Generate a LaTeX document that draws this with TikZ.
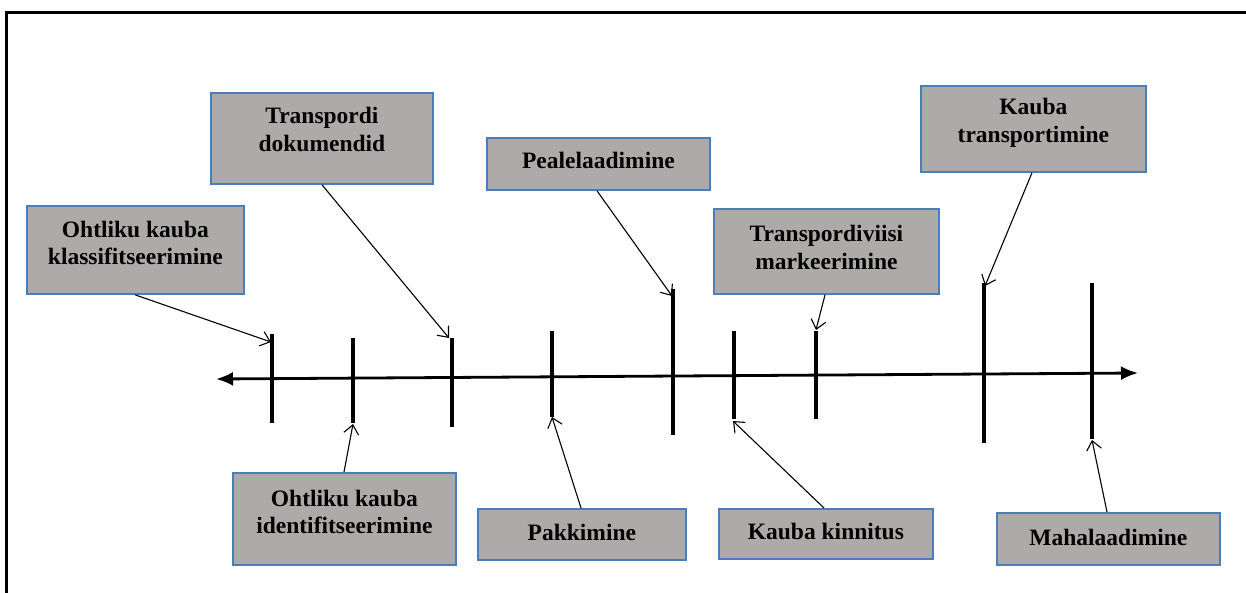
\documentclass[tikz,border=0pt]{standalone}
\usepackage{fontspec}
\setmainfont{Liberation Serif}
\usetikzlibrary{arrows.meta,calc}
\definecolor{boxfill}{HTML}{AEAAAA}
\definecolor{boxline}{HTML}{4A7EBB}
\tikzset{
  stagebox/.style={draw=boxline, line width=1.8pt, fill=boxfill, rectangle, inner sep=0pt, anchor=north west},
  stagetext/.style={align=center, inner sep=0pt, font=\fontsize{23.5}{27.5}\selectfont\bfseries},
  tick/.style={line width=3.8pt},
  pointer/.style={line width=1.1pt, -{Straight Barb[length=9pt,width=15pt,line width=1.1pt]}},
}
\begin{document}
\begin{tikzpicture}[x=1pt,y=-1pt]
\useasboundingbox (0,0) rectangle (1246,592);
% outer frame, partly outside the page
\begin{scope}
\clip (0,0) rectangle (1246,592);
\draw[line width=2.4pt] (6.5,12.5) rectangle (1300,700);
\end{scope}

% time axis
\coordinate (axL) at (216,379);
\coordinate (axR) at (1138,373);
\draw[line width=2.8pt, {Latex[length=17pt,width=14pt]}-{Latex[length=17pt,width=14pt]}] (axL) -- (axR);

% stage ticks
\coordinate (t1a) at (272,334); \coordinate (t1b) at (272,423);
\coordinate (t2a) at (353,338); \coordinate (t2b) at (353,423);
\coordinate (t3a) at (452,338); \coordinate (t3b) at (452,427);
\coordinate (t4a) at (552,331); \coordinate (t4b) at (552,417);
\coordinate (t5a) at (673,289); \coordinate (t5b) at (673,435);
\coordinate (t6a) at (734,331); \coordinate (t6b) at (734,419);
\coordinate (t7a) at (816,331); \coordinate (t7b) at (816,419);
\coordinate (t8a) at (984,283); \coordinate (t8b) at (984,443);
\coordinate (t9a) at (1092,283); \coordinate (t9b) at (1092,439);
\foreach \i in {1,...,9} \draw[tick] (t\i a) -- (t\i b);

% stage boxes
\node[stagebox, minimum width=217, minimum height=88] (b1) at (26,205) {};
\node[stagebox, minimum width=222, minimum height=91] (b2) at (210,92) {};
\node[stagebox, minimum width=223, minimum height=52] (b3) at (486,137) {};
\node[stagebox, minimum width=225, minimum height=85] (b4) at (713,208) {};
\node[stagebox, minimum width=225, minimum height=86] (b5) at (920,85) {};
\node[stagebox, minimum width=223, minimum height=92] (b6) at (232,472) {};
\node[stagebox, minimum width=208, minimum height=51] (b7) at (477,508) {};
\node[stagebox, minimum width=214, minimum height=50] (b8) at (718,508) {};
\node[stagebox, minimum width=223, minimum height=52] (b9) at (996,512) {};

% box labels, set a little above the box centres
\node[stagetext] (l1) at ([yshift=7]b1.center) {Ohtliku kauba\\klassifitseerimine};
\node[stagetext] (l2) at ([yshift=9]b2.center) {Transpordi\\dokumendid};
\node[stagetext] (l3) at ([yshift=3]b3.center) {Pealelaadimine};
\node[stagetext] (l4) at ([yshift=4]b4.center) {Transpordiviisi\\markeerimine};
\node[stagetext] (l5) at ([yshift=6]b5.center) {Kauba\\transportimine};
\node[stagetext] (l6) at ([yshift=7]b6.center) {Ohtliku kauba\\identifitseerimine};
\node[stagetext] (l7) at ([yshift=2]b7.center) {Pakkimine};
\node[stagetext] (l8) at ([yshift=2]b8.center) {Kauba kinnitus};
\node[stagetext] (l9) at ([yshift=1]b9.center) {Mahalaadimine};

% pointers from boxes to ticks
\coordinate (p1) at (271,342);
\coordinate (p2) at (449,338);
\coordinate (p3) at (672,296);
\coordinate (p4) at (816,330);
\coordinate (p5) at (985,286);
\coordinate (p6) at (353,424);
\coordinate (p7) at (552,417);
\coordinate (p8) at (733,421);
\coordinate (p9) at (1092,440);
\draw[pointer] (b1.south west) ++(109,0) coordinate (s1) -- (p1);
\draw[pointer] (b2.south west) ++(112,0) coordinate (s2) -- (p2);
\draw[pointer] (b3.south west) ++(111,0) coordinate (s3) -- (p3);
\draw[pointer] (b4.south west) ++(112,0) coordinate (s4) -- (p4);
\draw[pointer] (b5.south west) ++(112,0) coordinate (s5) -- (p5);
\draw[pointer] (b6.north west) ++(112,0) coordinate (s6) -- (p6);
\draw[pointer] (b7.north west) ++(104,0) coordinate (s7) -- (p7);
\draw[pointer] (b8.north west) ++(106,0) coordinate (s8) -- (p8);
\draw[pointer] (b9.north west) ++(111,0) coordinate (s9) -- (p9);
\end{tikzpicture}
\end{document}
